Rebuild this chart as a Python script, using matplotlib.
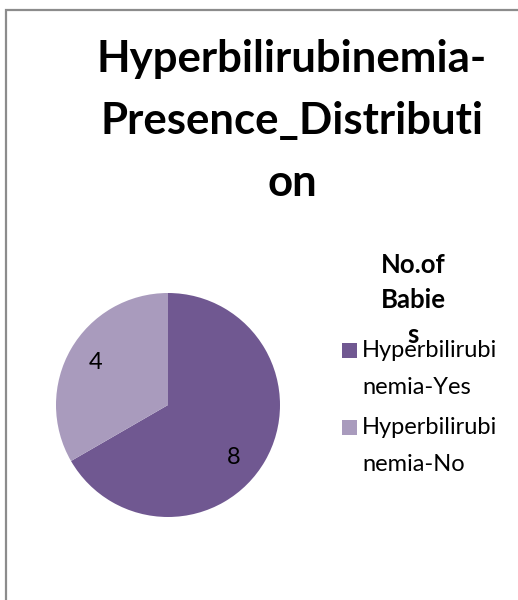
import numpy as np
import matplotlib
matplotlib.use('Agg')
from matplotlib import pyplot as plt
from matplotlib.patches import Rectangle

plt.rcParams['font.family'] = ['Lato', 'DejaVu Sans']

title = 'Hyperbilirubinemia-\nPresence_Distributi\non'
legend_title = 'No.of\nBabie\ns'
categories = ['Hyperbilirubi\nnemia-Yes', 'Hyperbilirubi\nnemia-No']
values = [8, 4]
colors = ['#705891', '#a99bbd']

W, H = 518, 600
fig = plt.figure(figsize=(W / 100, H / 100), dpi=100)


def fx(px):
    return px / W


def fy(py):
    return 1 - py / H


# outer chart border (cut off at right and bottom)
fig.add_artist(Rectangle((fx(6), -0.1), 1.2, fy(9.5) + 0.1,
                         transform=fig.transFigure, fill=False,
                         edgecolor='#8c8c8c', lw=1.6))

fig.text(fx(292), fy(39), title, ha='center', va='top',
         fontsize=31.5, fontweight='bold', linespacing=1.66)

# pie
r = 112
cx, cy = 168, 405
ax = fig.add_axes([fx(cx - r), fy(cy + r), 2 * r / W, 2 * r / H])
wedges, texts = ax.pie(values, colors=colors, startangle=90, counterclock=False,
                       labels=[str(v) for v in values], labeldistance=0.75,
                       textprops=dict(fontsize=17, color='black'),
                       wedgeprops=dict(linewidth=0))
# excel puts the big label a bit lower than the slice middle
texts[0].set_position((0.75 * np.cos(np.radians(-39)), 0.75 * np.sin(np.radians(-39))))
for t in texts:
    t.set_ha('center')
    t.set_va('center')
ax.set_xlim(-1, 1)
ax.set_ylim(-1, 1)

# legend
fig.text(fx(413), fy(253), legend_title, ha='center', va='top',
         fontsize=18.5, fontweight='bold', linespacing=1.55)
y0 = 350
for i, (lab, c) in enumerate(zip(categories, colors)):
    y = y0 + i * 77
    fig.add_artist(Rectangle((fx(342), fy(y + 7.5)), fx(15), 15 / H,
                             transform=fig.transFigure, facecolor=c,
                             edgecolor='none'))
    fig.text(fx(362), fy(y - 10), lab, ha='left', va='top',
             fontsize=17, linespacing=1.95)

fig.savefig('out.png', dpi=100)
